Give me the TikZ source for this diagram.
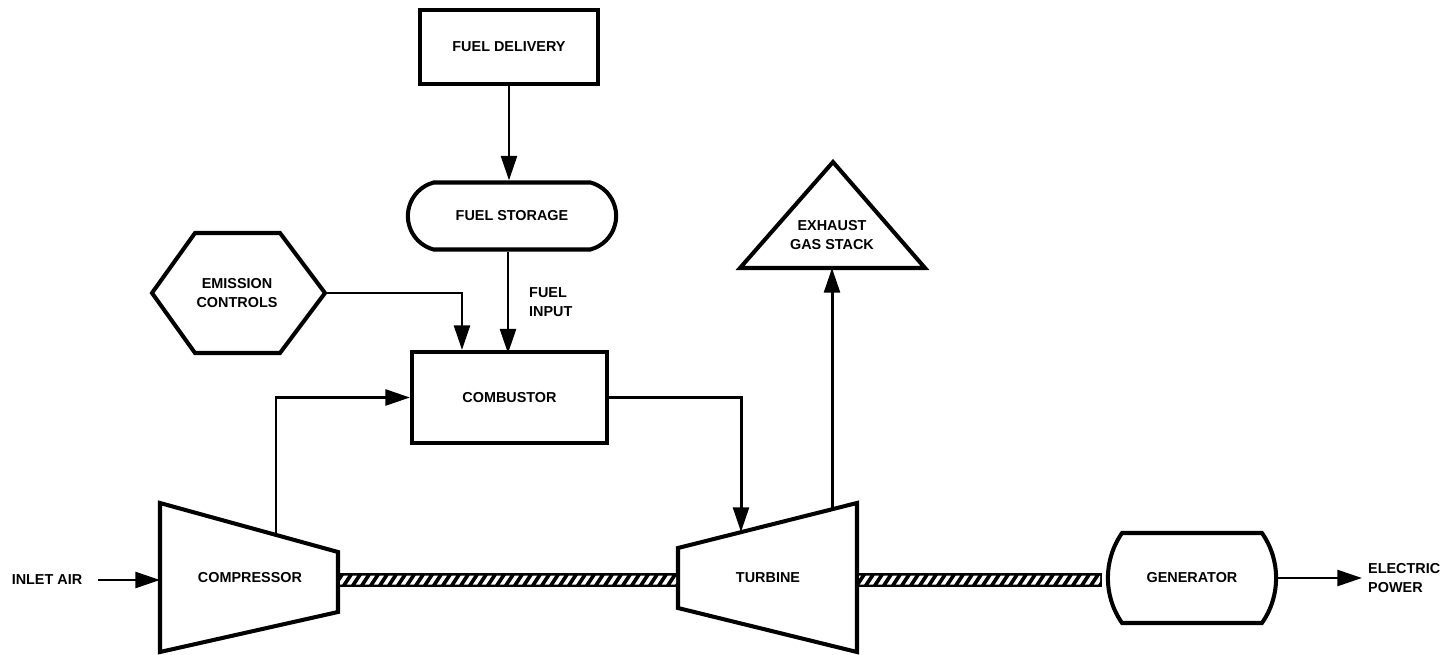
\documentclass[tikz,border=0pt]{standalone}
\usepackage{fontspec}
\setmainfont{Liberation Sans}
\usetikzlibrary{shapes.misc, arrows.meta, positioning}
\tikzstyle{txt} = [font=\bfseries\fontsize{8.2}{11}\selectfont, align=center]
\tikzstyle{block} = [rectangle, draw, line width=2.3pt, txt]
\tikzstyle{outline} = [line width=2.3pt, line join=miter]
\tikzstyle{arrow} = [line width=1.7pt,-{Triangle[length=14pt,width=9pt]}]
\tikzstyle{shaft} = [fill=black]
\tikzstyle{hatch} = [white, line width=2pt]

\begin{document}
\begin{tikzpicture}[x=0.02cm, y=-0.02cm]

    \useasboundingbox (0,0) rectangle (1447,655);

    % Fuel path
    \node (deliv) [block, minimum width=3.56cm, minimum height=1.48cm] at (509,47) {FUEL DELIVERY};
    \node (stor) [block, rounded rectangle, rounded rectangle arc length=150, minimum width=4.4cm, minimum height=1.34cm] at (512,216) {FUEL STORAGE};
    \node (comb) [block, minimum width=3.9cm, minimum height=1.82cm] at (509.5,397.5) {COMBUSTOR};
    \node (fuelin) [txt, align=left, anchor=west] at (523,302) {FUEL\\INPUT};

    % Emission controls
    \draw [outline] (152,293) -- (195,233) -- (280,233) -- (325,293) -- (280,353) -- (195,353) -- cycle;
    \coordinate (emisR) at (325,293);
    \node (emis) [txt] at (237,293) {EMISSION\\CONTROLS};

    % Exhaust gas stack
    \draw [outline] (740,268) -- (833,162) -- (925,268) -- cycle;
    \coordinate (stackB) at (832,268);
    \node (stack) [txt] at (832,235) {EXHAUST\\GAS STACK};

    % Compressor and turbine
    \draw [outline] (160,503) -- (338,552) -- (338,612) -- (160,652) -- cycle;
    \node (comp) [txt] at (250,578) {COMPRESSOR};
    \coordinate (compL) at (160,580);
    \coordinate (compTop) at (276,535);

    \draw [outline] (678,548) -- (857,503) -- (857,652) -- (678,608) -- cycle;
    \node (turb) [txt] at (768,578) {TURBINE};
    \coordinate (turbIn) at (741,532);
    \coordinate (turbOut) at (832,509);

    % Generator
    \node (gen) [block, rounded rectangle, rounded rectangle arc length=70, minimum width=3.6cm, minimum height=1.8cm] at (1192,578) {GENERATOR};

    % Outside labels
    \node (inlet) [txt] at (47,580) {INLET AIR};
    \node (elec) [txt, align=left, anchor=west] at (1362,578) {ELECTRIC\\POWER};

    % Shafts
    \fill [shaft] (338,573) rectangle (678,587);
    \fill [shaft] (857,573) rectangle (1102,587);
    \begin{scope}
        \clip (340,575.5) rectangle (676,584.5) (859,575.5) rectangle (1100,584.5);
        \foreach \s in {330,339,...,1110}
            \draw [hatch] (\s,586) -- (\s+8,574);
    \end{scope}

    % ==== Arrows
    \draw [arrow] (deliv.south) -- (deliv.south |- stor.north);
    \draw [arrow] (stor.south -| fuelin.west) ++(-15,0) -- ++(0,102);
    \draw [arrow] (emisR) -| ([xshift=1.04cm]comb.north west);
    \draw [arrow] (compTop) |- (comb.west);
    \draw [arrow] (comb.east) -| (turbIn);
    \draw [arrow] (turbOut) -- (stackB);
    \draw [arrow] ([xshift=0.2cm]inlet.east) -- (compL);
    \draw [arrow] (gen.east) -- (gen.east -| elec.west);

\end{tikzpicture}
\end{document}
